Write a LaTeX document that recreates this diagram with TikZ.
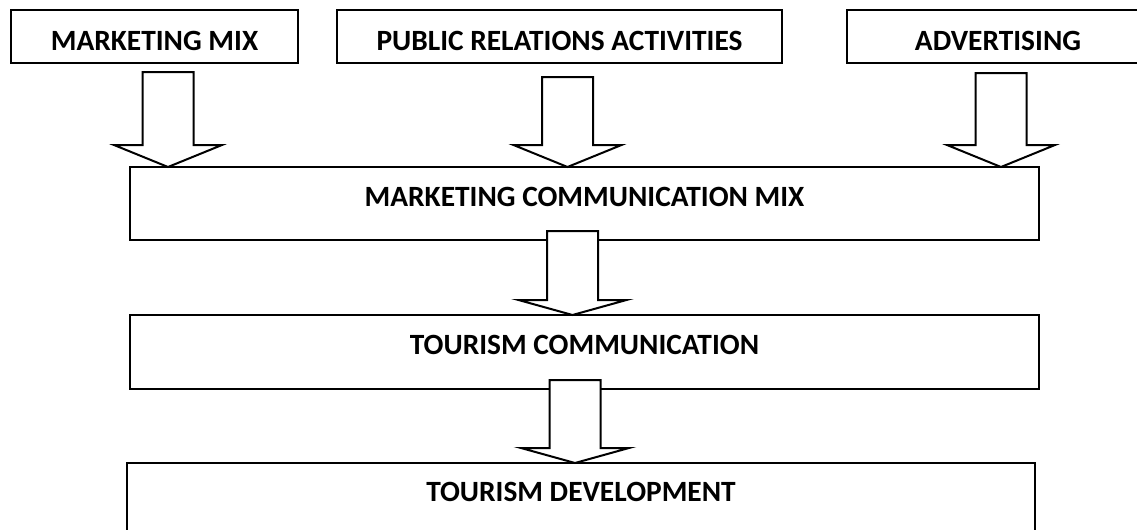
\documentclass[tikz,border=0pt]{standalone}
\usepackage{fontspec}
\setmainfont{Carlito}
\usetikzlibrary{calc}

\newcommand{\pxu}{0.5pt}
% 空心箭头：#1 箭杆顶端，#2 箭头指向的边，#3 箭头长度
\newcommand{\blockarrow}[3]{%
  \draw[hollow] ($(#1)+(-25.5,0)$) -- ($(#2 -| #1)+(-25.5,#3)$)
    -- ($(#2 -| #1)+(-54,#3)$) -- (#2 -| #1) -- ($(#2 -| #1)+(54,#3)$)
    -- ($(#2 -| #1)+(25.5,#3)$) -- ($(#1)+(25.5,0)$) -- cycle;}

\tikzset{
  box/.style={draw, line width=1pt, inner sep=0pt, outer sep=0pt, anchor=north west,
    font=\fontsize{14.7}{16}\selectfont\bfseries},
  hollow/.style={draw, fill=white, line width=1pt, line join=miter},
}

\begin{document}
\begin{tikzpicture}[x=\pxu, y=\pxu]
    \useasboundingbox (0,0) rectangle (1137,-530);

    % 上面三个方框
    \node[box, minimum width=287*\pxu, text height=20pt, text depth=6.5pt] (mix) at (11,-10) {MARKETING MIX};
    \node[box, minimum width=445*\pxu, text height=20pt, text depth=6.5pt] (pr) at (337,-10) {PUBLIC RELATIONS ACTIVITIES};
    \node[box, minimum width=302*\pxu, text height=20pt, text depth=6.5pt] (adv) at (847,-10) {ADVERTISING};

    % 中间和下面的方框
    \node[box, minimum width=909*\pxu, text height=19.5pt, text depth=17pt] (mcm) at (130,-167) {MARKETING COMMUNICATION MIX};
    \node[box, minimum width=909*\pxu, text height=19.5pt, text depth=17.5pt] (tc) at (130,-315) {TOURISM COMMUNICATION};
    \node[box, minimum width=908*\pxu, text height=19pt, text depth=22pt] (td) at (127,-463) {TOURISM DEVELOPMENT};

    % 箭杆起点
    \coordinate (s1) at ($(mix.south)+(13.5,-9)$);
    \coordinate (s2) at ($(pr.south)+(8,-14)$);
    \coordinate (s3) at ($(adv.south)+(3,-10)$);
    \coordinate (s4) at ($(mcm.south)+(-12,9)$);
    \coordinate (s5) at ($(tc.south)+(-9.5,9)$);

    % 空心箭头
    \blockarrow{s1}{mcm.north}{22}
    \blockarrow{s2}{mcm.north}{22}
    \blockarrow{s3}{mcm.north}{22}
    \blockarrow{s4}{tc.north}{15}
    \blockarrow{s5}{td.north}{15}
\end{tikzpicture}
\end{document}
